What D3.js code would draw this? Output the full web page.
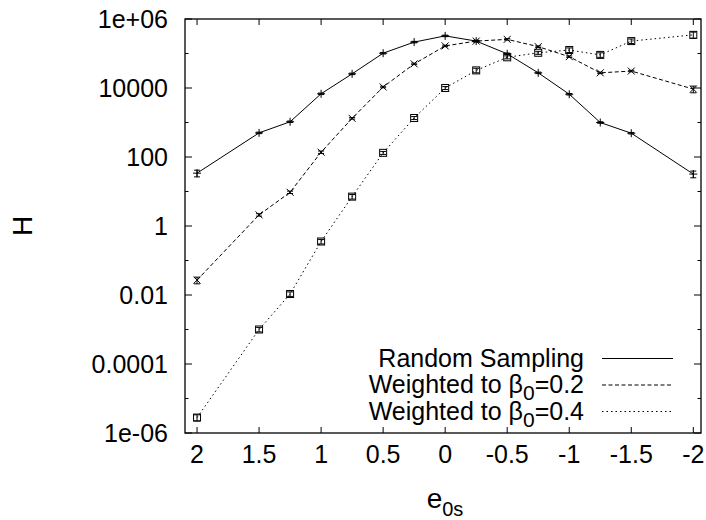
<!DOCTYPE html>
<html lang="en">
<head>
  <meta charset="UTF-8">
  <title>H vs e0s</title>
  <script src="https://cdn.jsdelivr.net/npm/d3@7"></script>
  <style>
  body{
    margin:0; padding:0;
    background-color:#fff;
  }
  text{
    font-family:"Liberation Sans", Arial, Helvetica, sans-serif;
    fill:#000;
  }
  .tickLabel{ font-size:25px; }
  .legendLabel{ font-size:25px; }
  .axisLabel{ font-size:28px; }
  .frame{ fill:none; stroke:#000; stroke-width:1.3; }
  .tick{ stroke:#000; stroke-width:1; }
  .series{ fill:none; stroke:#000; stroke-width:1; }
  .s1{ }
  .s2{ stroke-dasharray:4 2.5; }
  .s3{ stroke-dasharray:1.5 3; }
  .marker{ fill:none; stroke:#000; stroke-width:1; }
  </style>
</head>
<body>
<div id="chart"></div>
<script>

// x positions (e_0s) shared by all three series
let e0s = [2, 1.5, 1.25, 1, 0.75, 0.5, 0.25, 0, -0.25, -0.5, -0.75, -1, -1.25, -1.5, -2];

// H values
let randomSampling = [34, 500, 1050, 6800, 25700, 102000, 214000, 324000, 229000, 98000, 27500, 6600, 1000, 490, 32];
let weighted02 = [0.027, 2.1, 9.5, 138, 1320, 10700, 50000, 166000, 229000, 257000, 158000, 81000, 27500, 31000, 9300];
let weighted04 = [0.0000028, 0.001, 0.0107, 0.355, 7.1, 132, 1350, 10000, 32400, 77600, 105000, 126000, 91000, 229000, 347000];

// relative errors (dH/H)
let errRandom = [0.22, 0.05, 0.05, 0.05, 0.05, 0.05, 0.05, 0.05, 0.05, 0.05, 0.05, 0.05, 0.05, 0.05, 0.22];
let errW02    = [0.22, 0.08, 0.08, 0.08, 0.05, 0.05, 0.05, 0.05, 0.05, 0.05, 0.05, 0.05, 0.05, 0.05, 0.22];
let errW04    = [0.2, 0.15, 0.15, 0.15, 0.15, 0.1, 0.1, 0.1, 0.15, 0.1, 0.1, 0.15, 0.15, 0.15, 0.2];

let seriesNames = ["Random Sampling", "Weighted to \u03b2", "Weighted to \u03b2"];
let seriesSubs  = [null, ["0", "=0.2"], ["0", "=0.4"]];

let xTicks = [2, 1.5, 1, 0.5, 0, -0.5, -1, -1.5, -2];
let yMajor = [1e-6, 1e-4, 1e-2, 1, 1e2, 1e4, 1e6];
let yMinor = [1e-5, 1e-3, 1e-1, 1e1, 1e3, 1e5];
let yLabels = ["1e-06", "0.0001", "0.01", "1", "100", "10000", "1e+06"];

let W = 706, H = 520;
let plot = {left: 185, right: 701, top: 19, bottom: 433};

let svg = d3.select("#chart").append("svg")
    .attr("width", W).attr("height", H);

let x = d3.scaleLinear().domain([2.097, -2.062]).range([plot.left, plot.right]);
let y = d3.scaleLog().domain([1e-6, 1e6]).range([plot.bottom, plot.top]);

// ticks (inward, mirrored on top and right)
let ticks = svg.append("g");
xTicks.forEach(function(t){
  ticks.append("line").attr("class","tick")
    .attr("x1", x(t)).attr("x2", x(t)).attr("y1", plot.bottom).attr("y2", plot.bottom - 6);
  ticks.append("line").attr("class","tick")
    .attr("x1", x(t)).attr("x2", x(t)).attr("y1", plot.top).attr("y2", plot.top + 6);
  svg.append("text").attr("class","tickLabel")
    .attr("x", x(t)).attr("y", 463)
    .style("text-anchor","middle")
    .text(t);
});

yMajor.forEach(function(t, i){
  ticks.append("line").attr("class","tick")
    .attr("x1", plot.left).attr("x2", plot.left + 7).attr("y1", y(t)).attr("y2", y(t));
  ticks.append("line").attr("class","tick")
    .attr("x1", plot.right).attr("x2", plot.right - 7).attr("y1", y(t)).attr("y2", y(t));
  svg.append("text").attr("class","tickLabel")
    .attr("x", 168).attr("y", y(t) + 8.5)
    .style("text-anchor","end")
    .text(yLabels[i]);
});

yMinor.forEach(function(t){
  ticks.append("line").attr("class","tick")
    .attr("x1", plot.left).attr("x2", plot.left + 3.5).attr("y1", y(t)).attr("y2", y(t));
  ticks.append("line").attr("class","tick")
    .attr("x1", plot.right).attr("x2", plot.right - 3.5).attr("y1", y(t)).attr("y2", y(t));
});

// series
let series = [
  {vals: randomSampling, err: errRandom, cls: "s1", mark: "plus"},
  {vals: weighted02, err: errW02, cls: "s2", mark: "cross"},
  {vals: weighted04, err: errW04, cls: "s3", mark: "square"}
];

let lineGen = d3.line()
  .x(function(d){ return x(d[0]); })
  .y(function(d){ return y(d[1]); });

series.forEach(function(s){
  let pts = e0s.map(function(v, i){ return [v, s.vals[i], s.err[i]]; });
  let g = svg.append("g");

  g.append("path").attr("class", "series " + s.cls)
    .datum(pts).attr("d", lineGen);

  pts.forEach(function(p){
    let px = x(p[0]), py = y(p[1]);
    // error bar
    let yt = y(p[1] * (1 + p[2])), yb = y(p[1] * (1 - p[2]));
    g.append("line").attr("class","marker").attr("x1",px).attr("x2",px).attr("y1",yt).attr("y2",yb);
    g.append("line").attr("class","marker").attr("x1",px-3).attr("x2",px+3).attr("y1",yt).attr("y2",yt);
    g.append("line").attr("class","marker").attr("x1",px-3).attr("x2",px+3).attr("y1",yb).attr("y2",yb);

    if(s.mark == "plus"){
      g.append("path").attr("class","marker")
        .attr("d", "M"+(px-4)+","+py+"H"+(px+4)+"M"+px+","+(py-4)+"V"+(py+4));
    } else if(s.mark == "cross"){
      g.append("path").attr("class","marker")
        .attr("d", "M"+(px-3.5)+","+(py-3.5)+"L"+(px+3.5)+","+(py+3.5)+"M"+(px-3.5)+","+(py+3.5)+"L"+(px+3.5)+","+(py-3.5));
    } else {
      g.append("rect").attr("class","marker")
        .attr("x", px-3.5).attr("y", py-3.5).attr("width", 7).attr("height", 7);
    }
  });
});

// frame
svg.append("rect").attr("class","frame")
  .attr("x", plot.left).attr("y", plot.top)
  .attr("width", plot.right - plot.left).attr("height", plot.bottom - plot.top);

// legend
let legendY = [358.5, 385, 411.5];
series.forEach(function(s, i){
  let t = svg.append("text").attr("class","legendLabel")
    .attr("x", 584).attr("y", legendY[i] + 8.3)
    .style("text-anchor","end");
  t.append("tspan").text(seriesNames[i]);
  if(seriesSubs[i]){
    t.append("tspan").attr("dy", 7).style("font-size","21px").text(seriesSubs[i][0]);
    t.append("tspan").attr("dy", -7).text(seriesSubs[i][1]);
  }
  svg.append("line").attr("class","series " + s.cls)
    .attr("x1", 602).attr("x2", 673).attr("y1", legendY[i]).attr("y2", legendY[i]);
});

// axis labels
let xl = svg.append("text").attr("class","axisLabel")
  .attr("x", 445).attr("y", 508)
  .style("text-anchor","middle");
xl.append("tspan").text("e");
xl.append("tspan").attr("dy", 8).style("font-size","20px").text("0s");

svg.append("text").attr("class","axisLabel")
  .attr("transform","translate(32,226) rotate(-90)")
  .style("text-anchor","middle")
  .text("H");

</script>
</body>
</html>
